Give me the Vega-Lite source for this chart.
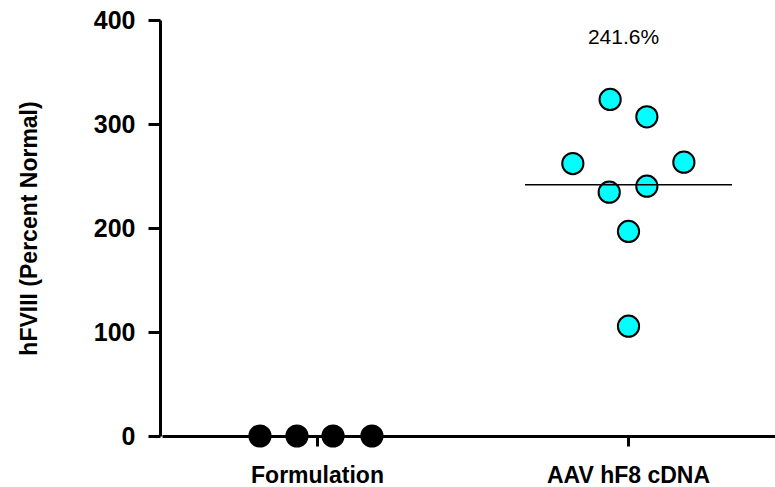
{
  "$schema": "https://vega.github.io/schema/vega-lite/v6.json",
  "width": 615,
  "height": 416,
  "autosize": {"type": "none"},
  "padding": {"left": 160, "top": 20, "right": 0, "bottom": 51},
  "background": "white",
  "config": {"view": {"stroke": null}, "font": "Liberation Sans"},
  "datasets": {
    "points": [
      {"group": "Formulation", "jitter": -0.185, "value": 0},
      {"group": "Formulation", "jitter": -0.066, "value": 0},
      {"group": "Formulation", "jitter": 0.05, "value": 0},
      {"group": "Formulation", "jitter": 0.175, "value": 0},
      {"group": "AAV hF8 cDNA", "jitter": -0.059, "value": 323.6},
      {"group": "AAV hF8 cDNA", "jitter": 0.059, "value": 306.9},
      {"group": "AAV hF8 cDNA", "jitter": -0.179, "value": 262.0},
      {"group": "AAV hF8 cDNA", "jitter": 0.178, "value": 263.3},
      {"group": "AAV hF8 cDNA", "jitter": -0.062, "value": 234.4},
      {"group": "AAV hF8 cDNA", "jitter": 0.059, "value": 240.2},
      {"group": "AAV hF8 cDNA", "jitter": 0.0, "value": 196.7},
      {"group": "AAV hF8 cDNA", "jitter": 0.0, "value": 105.6}
    ],
    "summary": [
      {"group": "AAV hF8 cDNA", "value": 241.6, "label": "241.6%"}
    ]
  },
  "encoding": {
    "x": {
      "field": "group",
      "type": "nominal",
      "sort": null,
      "scale": {"domain": ["Formulation", "AAV hF8 cDNA"], "range": [2, 624], "paddingInner": 0, "paddingOuter": 0},
      "axis": {
        "title": null,
        "labelAngle": 0,
        "domainColor": "black",
        "domainWidth": 3,
        "tickColor": "black",
        "tickWidth": 3,
        "tickSize": 10,
        "labelFont": "Liberation Sans",
        "labelFontSize": 23,
        "labelFontWeight": "bold",
        "labelColor": "black",
        "labelPadding": 18
      }
    }
  },
  "layer": [
    {
      "data": {"name": "points"},
      "mark": {"type": "circle", "size": 450, "stroke": "black", "strokeWidth": 2, "opacity": 1},
      "encoding": {
        "xOffset": {"field": "jitter", "type": "quantitative", "scale": {"domain": [-0.5, 0.5]}},
        "y": {
          "field": "value",
          "type": "quantitative",
          "scale": {"domain": [0, 400], "nice": false},
          "axis": {
            "title": "hFVIII (Percent Normal)",
            "values": [0, 100, 200, 300, 400],
            "grid": false,
            "domainColor": "black",
            "domainWidth": 3,
            "tickColor": "black",
            "tickWidth": 3,
            "tickSize": 12,
            "labelFont": "Liberation Sans",
            "labelFontSize": 25,
            "labelFontWeight": "bold",
            "labelColor": "black",
            "labelPadding": 13,
            "titleFont": "Liberation Sans",
            "titleFontSize": 23,
            "titleFontWeight": "bold",
            "titleColor": "black",
            "titlePadding": 52
          }
        },
        "fill": {
          "field": "group",
          "type": "nominal",
          "scale": {"domain": ["Formulation", "AAV hF8 cDNA"], "range": ["#000000", "#00FFFF"]},
          "legend": null
        }
      }
    },
    {
      "data": {"name": "summary"},
      "mark": {"type": "tick", "color": "black", "thickness": 1.5, "size": 207, "opacity": 1},
      "encoding": {
        "y": {"field": "value", "type": "quantitative"}
      }
    },
    {
      "data": {"name": "summary"},
      "mark": {"type": "text", "font": "Liberation Sans", "fontSize": 21, "color": "black", "baseline": "alphabetic", "dx": -5},
      "encoding": {
        "y": {"datum": 377, "type": "quantitative"},
        "text": {"field": "label"}
      }
    }
  ]
}
